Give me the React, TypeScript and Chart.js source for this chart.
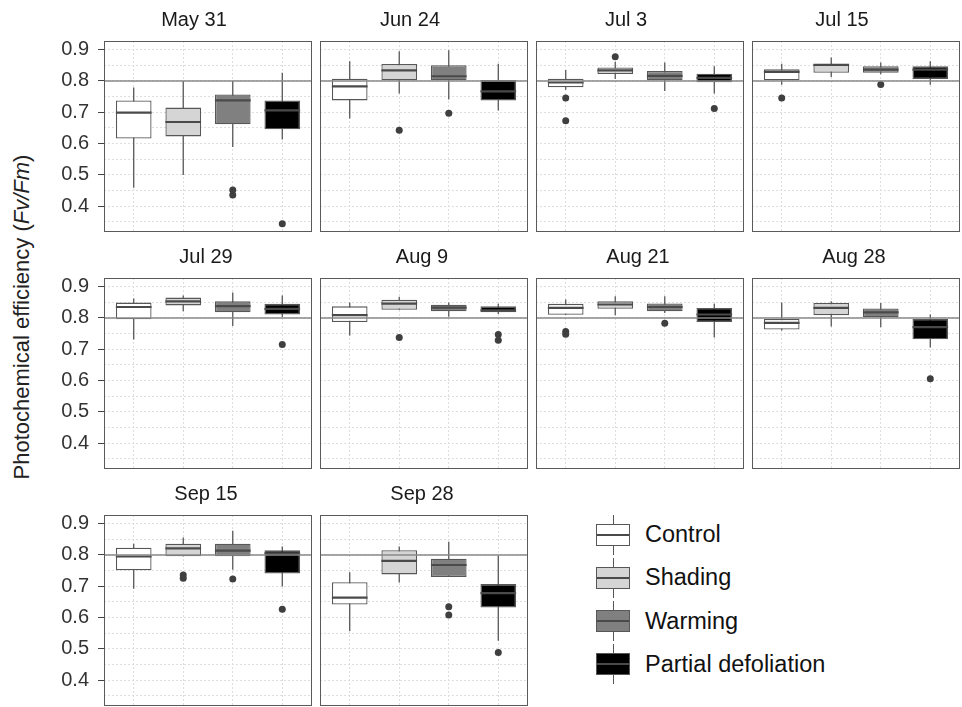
import React, { useEffect, useRef } from 'react';
import { Chart, registerables } from 'chart.js';

Chart.register(...registerables);

const dates = ['May 31', 'Jun 24', 'Jul 3', 'Jul 15', 'Jul 29', 'Aug 9', 'Aug 21', 'Aug 28', 'Sep 15', 'Sep 28'];
const treatments = ['Control', 'Shading', 'Warming', 'Partial defoliation'];
const yTickValues = [0.35, 0.4, 0.45, 0.5, 0.55, 0.6, 0.65, 0.7, 0.75, 0.8, 0.85, 0.9];
const referenceValue = 0.8;

// per date, per treatment (Control, Shading, Warming, Partial defoliation)
const lowerWhisker = [
  [0.459, 0.5, 0.589, 0.613],
  [0.68, 0.76, 0.741, 0.706],
  [0.772, 0.806, 0.768, 0.76],
  [0.788, 0.813, 0.821, 0.788],
  [0.731, 0.821, 0.774, 0.803],
  [0.744, 0.826, 0.804, 0.813],
  [0.81, 0.809, 0.816, 0.738],
  [0.76, 0.773, 0.77, 0.706],
  [0.692, 0.796, 0.753, 0.699],
  [0.557, 0.712, 0.73, 0.526],
];
const lowerQuartile = [
  [0.616, 0.623, 0.662, 0.646],
  [0.738, 0.802, 0.802, 0.738],
  [0.78, 0.822, 0.802, 0.796],
  [0.802, 0.826, 0.826, 0.806],
  [0.796, 0.84, 0.818, 0.811],
  [0.787, 0.826, 0.821, 0.818],
  [0.81, 0.829, 0.821, 0.787],
  [0.763, 0.809, 0.802, 0.732],
  [0.751, 0.796, 0.796, 0.741],
  [0.642, 0.738, 0.73, 0.632],
];
const medians = [
  [0.699, 0.669, 0.738, 0.706],
  [0.783, 0.834, 0.815, 0.767],
  [0.795, 0.834, 0.816, 0.81],
  [0.829, 0.851, 0.836, 0.836],
  [0.835, 0.853, 0.838, 0.829],
  [0.809, 0.846, 0.833, 0.824],
  [0.832, 0.843, 0.835, 0.811],
  [0.784, 0.832, 0.818, 0.771],
  [0.795, 0.821, 0.814, 0.805],
  [0.664, 0.781, 0.768, 0.678],
];
const upperQuartile = [
  [0.738, 0.715, 0.757, 0.738],
  [0.807, 0.854, 0.85, 0.803],
  [0.807, 0.843, 0.832, 0.823],
  [0.837, 0.854, 0.847, 0.847],
  [0.849, 0.865, 0.853, 0.845],
  [0.837, 0.858, 0.842, 0.837],
  [0.845, 0.853, 0.846, 0.832],
  [0.797, 0.848, 0.83, 0.797],
  [0.823, 0.836, 0.836, 0.815],
  [0.713, 0.815, 0.788, 0.707],
];
const upperWhisker = [
  [0.779, 0.8, 0.8, 0.826],
  [0.863, 0.895, 0.898, 0.855],
  [0.835, 0.861, 0.859, 0.847],
  [0.855, 0.875, 0.859, 0.863],
  [0.862, 0.872, 0.881, 0.872],
  [0.849, 0.868, 0.849, 0.845],
  [0.859, 0.869, 0.869, 0.845],
  [0.849, 0.853, 0.848, 0.811],
  [0.836, 0.856, 0.877, 0.827],
  [0.745, 0.827, 0.842, 0.798],
];
// outliers: [treatment index, value]
const outliers = [
  [[2, 0.452], [2, 0.436], [3, 0.344]],
  [[1, 0.643], [2, 0.697]],
  [[0, 0.746], [0, 0.673], [1, 0.877], [3, 0.712]],
  [[0, 0.746], [2, 0.789]],
  [[3, 0.715]],
  [[1, 0.738], [3, 0.747], [3, 0.729]],
  [[0, 0.757], [0, 0.748], [2, 0.783]],
  [[3, 0.606]],
  [[1, 0.736], [1, 0.726], [2, 0.723], [3, 0.627]],
  [[2, 0.635], [2, 0.608], [3, 0.489]],
];

const FONT = '"Liberation Sans", Arial, Helvetica, sans-serif';
const FILLS = ['#ffffff', '#d5d5d5', '#808080', '#000000'];
const LINE = '#575757';

const PANEL_W = 208;
const PANEL_H = 191;
const COL_LEFT = [104, 320, 536, 752];
const ROW_TOP = [41, 278, 515];
const ROW_TITLE_SHIFT = [-14, -2, -2];
const AXIS_W = 50;
const TITLE_SIZE = 20;
const TITLE_H = 38;

const isMajor = (n: number) => Math.abs(n * 10 - Math.round(n * 10)) < 1e-6;

const boxPlugin = {
  id: 'boxExtras',
  beforeDatasetsDraw(chart: any) {
    const idx = chart.options.plugins.boxExtras.panel;
    const { ctx, scales } = chart;
    const x = scales.x;
    const y = scales.y;
    ctx.save();
    ctx.strokeStyle = LINE;
    ctx.lineWidth = 1.3;
    for (let i = 0; i < 4; i++) {
      const px = x.getPixelForValue(i);
      ctx.beginPath();
      ctx.moveTo(px, y.getPixelForValue(upperWhisker[idx][i]));
      ctx.lineTo(px, y.getPixelForValue(lowerWhisker[idx][i]));
      ctx.stroke();
    }
    ctx.restore();
  },
  afterDatasetsDraw(chart: any) {
    const opts = chart.options.plugins.boxExtras;
    const idx = opts.panel;
    const { ctx, scales, chartArea } = chart;
    const x = scales.x;
    const y = scales.y;
    const meta = chart.getDatasetMeta(0);
    ctx.save();
    ctx.strokeStyle = '#4a4a4a';
    ctx.lineWidth = 2.2;
    for (let i = 0; i < 4; i++) {
      const bar = meta.data[i];
      const px = x.getPixelForValue(i);
      const hw = bar.width / 2;
      const py = y.getPixelForValue(medians[idx][i]);
      ctx.beginPath();
      ctx.moveTo(px - hw, py);
      ctx.lineTo(px + hw, py);
      ctx.stroke();
    }
    // reference line
    const ry = y.getPixelForValue(referenceValue);
    ctx.strokeStyle = '#888888';
    ctx.lineWidth = 1.5;
    ctx.beginPath();
    ctx.moveTo(chartArea.left, ry);
    ctx.lineTo(chartArea.right, ry);
    ctx.stroke();
    // panel border
    ctx.strokeStyle = '#5a5a5a';
    ctx.lineWidth = 1;
    ctx.strokeRect(chartArea.left + 0.5, chartArea.top + 0.5, chartArea.right - chartArea.left - 1, chartArea.bottom - chartArea.top - 1);
    // strip title
    ctx.fillStyle = '#1a1a1a';
    ctx.font = `${TITLE_SIZE}px ${FONT}`;
    ctx.textAlign = 'center';
    ctx.textBaseline = 'middle';
    ctx.fillText(dates[idx], (chartArea.left + chartArea.right) / 2 + opts.shift, chartArea.top - 21);
    ctx.restore();
  },
};

function Panel({ idx }: { idx: number }) {
  const ref = useRef<HTMLCanvasElement>(null);
  const col = idx % 4;
  const row = Math.floor(idx / 4);
  const showAxis = col === 0;
  const axisW = showAxis ? AXIS_W : 0;
  const width = PANEL_W + axisW + 1;
  const height = TITLE_H + PANEL_H + 1;
  const left = COL_LEFT[col] - axisW;
  const top = ROW_TOP[row] - TITLE_H;

  useEffect(() => {
    if (!ref.current) return;
    const chart = new Chart(ref.current, {
      type: 'bar',
      data: {
        datasets: [
          {
            type: 'bar',
            data: treatments.map((_, i) => ({ x: i, y: [lowerQuartile[idx][i], upperQuartile[idx][i]] })) as any,
            backgroundColor: FILLS,
            borderColor: LINE,
            borderWidth: 1.3,
            borderSkipped: false,
            barPercentage: 0.72,
            categoryPercentage: 1,
          } as any,
          {
            type: 'scatter',
            data: outliers[idx].map(([t, v]) => ({ x: t, y: v })),
            pointRadius: 3.5,
            pointBackgroundColor: '#3f3f3f',
            pointBorderWidth: 0,
            showLine: false,
          } as any,
        ],
      },
      options: {
        animation: false,
        responsive: false,
        maintainAspectRatio: false,
        devicePixelRatio: 1,
        layout: { autoPadding: false, padding: { top: TITLE_H, bottom: 1, right: 1, left: 0 } } as any,
        plugins: {
          legend: { display: false },
          tooltip: { enabled: false },
          title: { display: false },
          boxExtras: { panel: idx, shift: ROW_TITLE_SHIFT[row] },
        } as any,
        scales: {
          x: {
            type: 'linear',
            offset: false,
            min: -0.6,
            max: 3.6,
            afterBuildTicks: (s: any) => {
              s.ticks = [0, 1, 2, 3].map((v) => ({ value: v }));
            },
            afterFit: (s: any) => {
              s.height = 0;
              s.paddingLeft = 0;
              s.paddingRight = 0;
            },
            ticks: { display: false, autoSkip: false },
            grid: { color: '#dedede', drawTicks: false, lineWidth: 1, offset: false },
            border: { display: false, dash: [2, 2] },
          },
          y: {
            type: 'linear',
            min: 0.318,
            max: 0.9275,
            afterBuildTicks: (s: any) => {
              s.ticks = yTickValues.map((v) => ({ value: v }));
            },
            afterFit: (s: any) => {
              s.width = axisW;
              s.paddingTop = 0;
              s.paddingBottom = 0;
            },
            ticks: {
              display: showAxis,
              autoSkip: false,
              color: '#333333',
              font: { family: FONT, size: 20 },
              padding: 9,
              callback: (v: any) => (isMajor(Number(v)) ? Number(v).toFixed(1) : ''),
            },
            grid: {
              color: '#dedede',
              lineWidth: 1,
              drawTicks: showAxis,
              tickLength: 6,
              tickColor: (c: any) => (c.tick && isMajor(c.tick.value) ? '#444444' : 'rgba(0,0,0,0)'),
              tickBorderDash: [],
              tickWidth: 1,
            } as any,
            border: { display: false, dash: [2, 2] },
          },
        },
      },
      plugins: [boxPlugin],
    });
    return () => chart.destroy();
  }, [idx]);

  return (
    <canvas
      ref={ref}
      width={width}
      height={height}
      style={{ position: 'absolute', left, top, width, height }}
    />
  );
}

function LegendKey({ fill }: { fill: string }) {
  return (
    <div style={{ position: 'relative', width: 34, height: 40 }}>
      <div style={{ position: 'absolute', left: 16.5, top: 0, width: 1.3, height: 40, background: LINE }} />
      <div
        style={{
          position: 'absolute',
          left: 0,
          top: 9,
          width: 34,
          height: 22,
          boxSizing: 'border-box',
          border: `1.5px solid ${LINE}`,
          background: fill,
        }}
      />
      <div style={{ position: 'absolute', left: 1, top: 19, width: 32, height: 2, background: '#4a4a4a' }} />
    </div>
  );
}

export default function App() {
  const legendCenters = [534.5, 577.5, 621, 664];
  return (
    <div style={{ position: 'fixed', left: 0, top: 0, width: 962, height: 707, background: '#ffffff', overflow: 'hidden' }}>
      {dates.map((_, i) => (
        <Panel key={i} idx={i} />
      ))}
      <div
        style={{
          position: 'absolute',
          left: 22,
          top: 317,
          transform: 'translate(-50%, -50%) rotate(-90deg)',
          whiteSpace: 'nowrap',
          fontFamily: FONT,
          fontSize: 22,
          color: '#222',
        }}
      >
        Photochemical efficiency (<i>Fv/Fm</i>)
      </div>
      {treatments.map((t, i) => (
        <div
          key={t}
          style={{ position: 'absolute', left: 596, top: legendCenters[i] - 20, height: 40, display: 'flex', alignItems: 'center' }}
        >
          <LegendKey fill={FILLS[i]} />
          <span style={{ marginLeft: 15, fontFamily: FONT, fontSize: 23.5, color: '#111' }}>{t}</span>
        </div>
      ))}
    </div>
  );
}
